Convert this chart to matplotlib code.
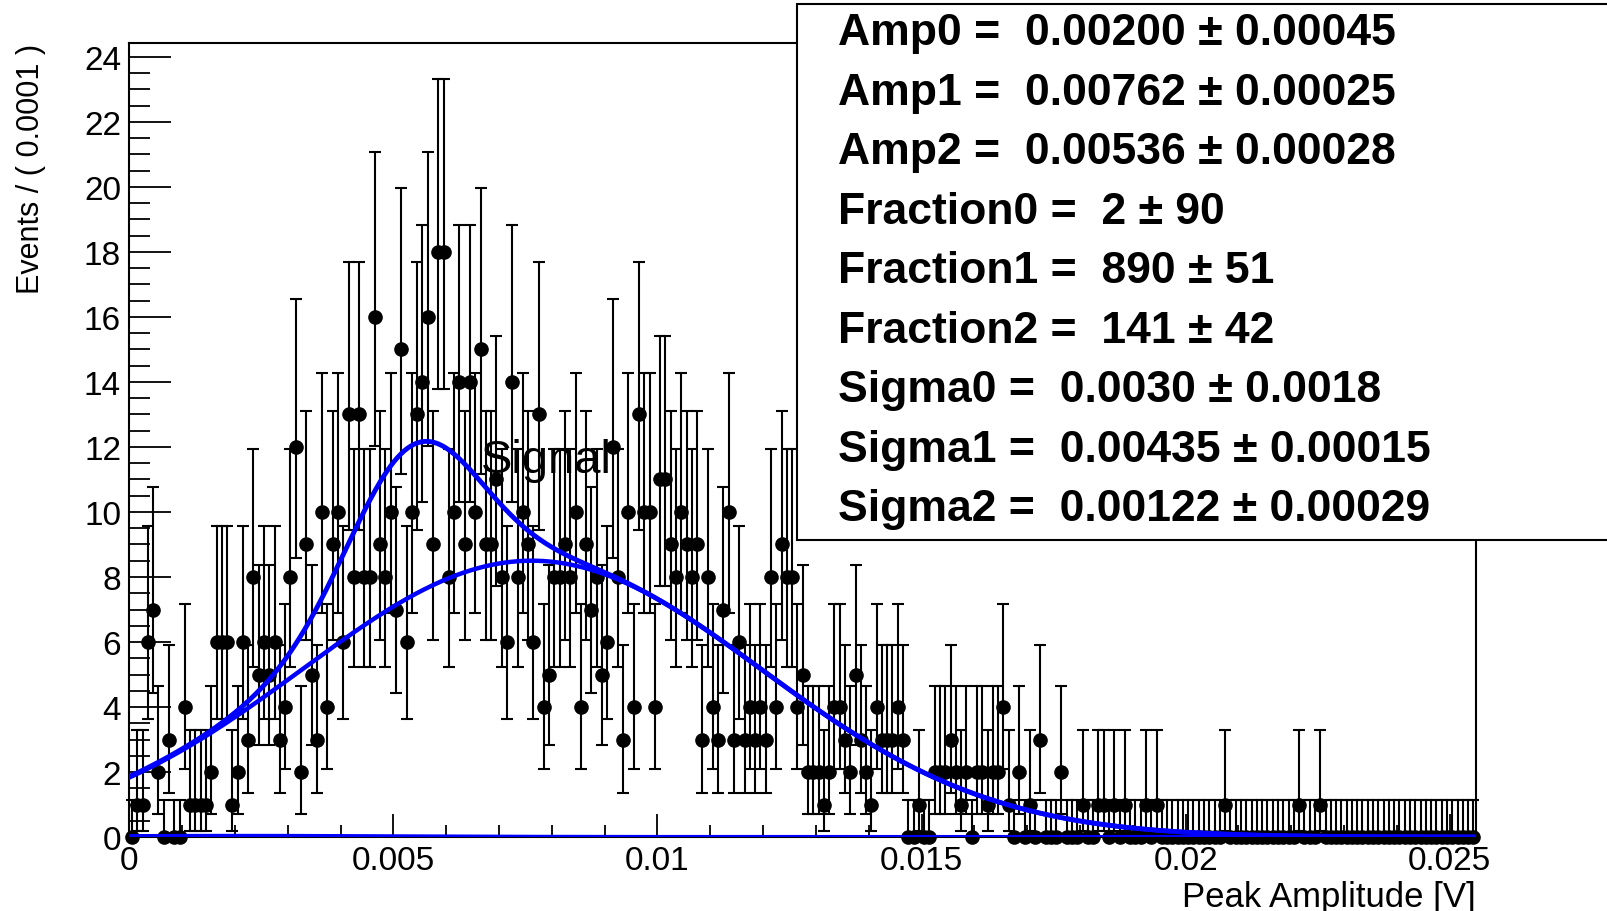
"""RooFit-style peak amplitude fit: data with Poisson errors + gaussian components."""

import math

import matplotlib
matplotlib.use("Agg")
import matplotlib.pyplot as plt
import numpy as np
from matplotlib.patches import Rectangle
from matplotlib.ticker import MultipleLocator

plt.rcParams["font.family"] = ["Liberation Sans", "DejaVu Sans"]

# binning: Events / ( 0.0001 )
X_MIN, X_MAX = 0.0, 0.0255
N_BINS = 255

# counts per bin
counts = [
    0, 1, 1, 6, 7, 2, 0, 3, 0, 0,
    4, 1, 1, 1, 1, 2, 6, 6, 6, 1,
    2, 6, 3, 8, 5, 6, 5, 6, 3, 4,
    8, 12, 2, 9, 5, 3, 10, 4, 9, 10,
    6, 13, 8, 13, 8, 8, 16, 9, 8, 10,
    7, 15, 6, 10, 13, 14, 16, 9, 18, 18,
    8, 10, 14, 9, 14, 10, 15, 9, 9, 11,
    8, 6, 14, 8, 10, 9, 6, 13, 4, 5,
    8, 8, 9, 8, 10, 4, 9, 7, 8, 5,
    6, 12, 8, 3, 10, 4, 13, 10, 10, 4,
    11, 11, 9, 8, 10, 9, 8, 9, 3, 8,
    4, 3, 7, 10, 3, 6, 3, 4, 3, 4,
    3, 8, 4, 9, 8, 8, 4, 5, 2, 2,
    2, 1, 2, 4, 4, 3, 2, 5, 3, 2,
    1, 4, 3, 3, 3, 4, 3, 0, 0, 1,
    0, 0, 2, 2, 2, 3, 2, 1, 2, 0,
    2, 2, 1, 2, 2, 4, 1, 0, 2, 0,
    1, 0, 3, 0, 0, 0, 2, 0, 0, 0,
    1, 0, 0, 1, 1, 0, 1, 0, 1, 0,
    0, 0, 1, 0, 1, 0, 0, 0, 0, 0,
    0, 0, 0, 0, 0, 0, 0, 1, 0, 0,
    0, 0, 0, 0, 0, 0, 0, 0, 0, 0,
    0, 1, 0, 0, 0, 1, 0, 0, 0, 0,
    0, 0, 0, 0, 0, 0, 0, 0, 0, 0,
    0, 0, 0, 0, 0, 0, 0, 0, 0, 0,
    0, 0, 0, 0, 0,
]

# fit result (means, widths, yields)
amp = [0.00200, 0.00762, 0.00536]
sigma = [0.0030, 0.00435, 0.00122]
fraction = [2, 890, 141]

box_lines = [
    "Amp0 =  0.00200 \u00b1 0.00045",
    "Amp1 =  0.00762 \u00b1 0.00025",
    "Amp2 =  0.00536 \u00b1 0.00028",
    "Fraction0 =  2 \u00b1 90",
    "Fraction1 =  890 \u00b1 51",
    "Fraction2 =  141 \u00b1 42",
    "Sigma0 =  0.0030 \u00b1 0.0018",
    "Sigma1 =  0.00435 \u00b1 0.00015",
    "Sigma2 =  0.00122 \u00b1 0.00029",
]

x_ticks = [0, 0.005, 0.01, 0.015, 0.02, 0.025]
x_tick_labels = ["0", "0.005", "0.01", "0.015", "0.02", "0.025"]


def _pois_cdf(n, mu):
    term = math.exp(-mu)
    s = term
    for k in range(1, n + 1):
        term *= mu / k
        s += term
    return s


def _solve(f, lo, hi):
    # bisection for a decreasing f
    for _ in range(80):
        mid = 0.5 * (lo + hi)
        if f(mid) > 0:
            lo = mid
        else:
            hi = mid
    return 0.5 * (lo + hi)


def poisson_interval(n, alpha=0.158655):
    """RooFit-like 68% interval; zero bins use the one-sided limit."""
    if n == 0:
        return 0.0, -math.log(1 - 0.6827)
    hi = _solve(lambda mu: _pois_cdf(n, mu) - alpha, n, n + 10 * math.sqrt(n) + 10)
    lo = _solve(lambda mu: alpha - (1 - _pois_cdf(n - 1, mu)), 0.0, n)
    return n - lo, hi - n


def gauss_curve(x, n, mu, s, bin_w):
    norm = 0.5 * (math.erf((X_MAX - mu) / (s * math.sqrt(2))) - math.erf((X_MIN - mu) / (s * math.sqrt(2))))
    return n * bin_w * np.exp(-0.5 * ((x - mu) / s) ** 2) / (s * math.sqrt(2 * math.pi)) / norm


bin_w = (X_MAX - X_MIN) / N_BINS
centers = X_MIN + (np.arange(N_BINS) + 0.5) * bin_w
errs = [poisson_interval(c) for c in counts]
yerr = [[e[0] for e in errs], [e[1] for e in errs]]

fig = plt.figure(figsize=(16.07, 9.12), dpi=100)
ax = fig.add_axes([0.0805, 0.0811, 0.838, 0.8707])

ax.errorbar(centers, counts, yerr=yerr, fmt="o", color="black", ms=9.5,
            elinewidth=1.5, capsize=4.3, capthick=1.5, zorder=2, clip_on=False)

xs = np.linspace(X_MIN, X_MAX, 800)
comps = [gauss_curve(xs, fraction[i], amp[i], sigma[i], bin_w) for i in range(3)]
total = comps[0] + comps[1] + comps[2]
ax.plot(xs, total, color="#0000ff", lw=3.5, zorder=3)
ax.plot(xs, comps[1], color="#0000ff", lw=3.2, zorder=3)
ax.plot(xs, comps[0], color="#0000ff", lw=3.0, zorder=3)

ax.text(0.00665, 11.6, "Signal", fontsize=34, va="center", ha="left", zorder=4)

ax.set_xlim(X_MIN, X_MAX)
ax.set_ylim(0, 24.43)
ax.set_xticks(x_ticks)
ax.set_xticklabels(x_tick_labels)
ax.xaxis.set_minor_locator(MultipleLocator(0.001))
ax.yaxis.set_major_locator(MultipleLocator(2))
ax.yaxis.set_minor_locator(MultipleLocator(0.5))
ax.tick_params(axis="both", which="both", direction="in", width=1.3, labelsize=24, pad=6)
ax.tick_params(axis="x", which="major", length=16.5)
ax.tick_params(axis="x", which="minor", length=8.5)
ax.tick_params(axis="y", which="major", length=30)
ax.tick_params(axis="y", which="minor", length=15)
for sp in ax.spines.values():
    sp.set_linewidth(1.5)

ax.text(1.0, -0.0755, "Peak Amplitude [V]", transform=ax.transAxes,
        ha="right", va="center", fontsize=25)
ax.text(-0.073, 1.0, "Events / ( 0.0001 )", transform=ax.transAxes,
        rotation=90, ha="center", va="top", fontsize=22)

# parameter box (runs off the right edge like the original)
box = Rectangle((797 / 1607, 1 - 541 / 912), 1.0, (541 - 5) / 912,
                transform=fig.transFigure, facecolor="white", edgecolor="black",
                lw=1.5, zorder=10, clip_on=False)
fig.add_artist(box)
for i, line in enumerate(box_lines):
    fig.text(838 / 1607, 1 - (34 + 59.45 * i) / 912, line,
             fontweight="bold", fontsize=32, va="center", ha="left", zorder=11)

fig.savefig("out.png", dpi=100)
